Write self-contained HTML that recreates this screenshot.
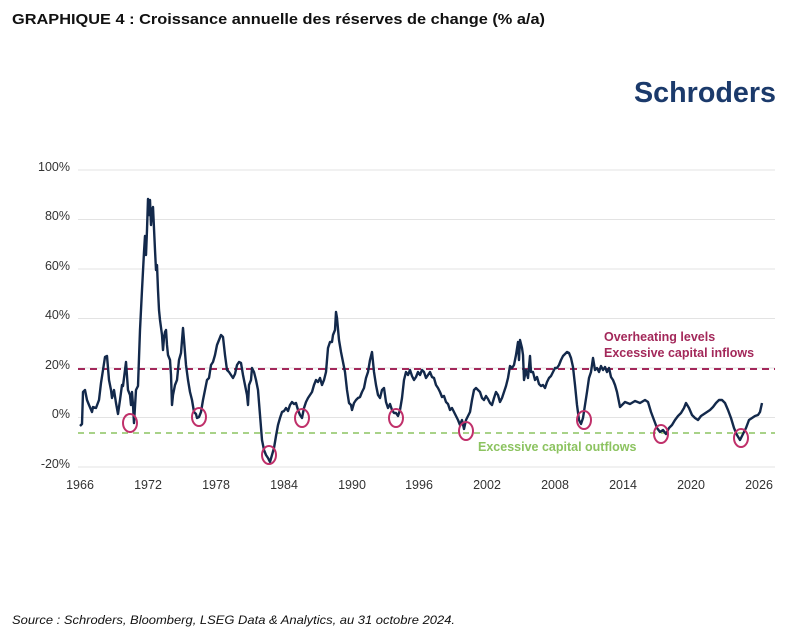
<!DOCTYPE html>
<html><head><meta charset="utf-8"><style>
html,body{margin:0;padding:0;background:#fff;}
svg{display:block;font-family:"Liberation Sans",sans-serif;}
</style></head><body>
<svg width="801" height="637" viewBox="0 0 801 637" xmlns="http://www.w3.org/2000/svg">
<text x="12" y="24" font-size="15" font-weight="bold" fill="#111" textLength="533" lengthAdjust="spacingAndGlyphs">GRAPHIQUE 4 : Croissance annuelle des réserves de change (% a/a)</text>
<text x="634" y="102" font-size="29" font-weight="bold" fill="#1b3a6b" textLength="142" lengthAdjust="spacingAndGlyphs">Schroders</text>
<g stroke="#e3e3e3" stroke-width="1">
<line x1="78" y1="170" x2="775" y2="170"/>
<line x1="78" y1="219.5" x2="775" y2="219.5"/>
<line x1="78" y1="269" x2="775" y2="269"/>
<line x1="78" y1="318.5" x2="775" y2="318.5"/>
<line x1="78" y1="368" x2="775" y2="368"/>
<line x1="78" y1="417.5" x2="775" y2="417.5"/>
<line x1="78" y1="467" x2="775" y2="467"/>
</g>
<g font-size="12.5" fill="#333" text-anchor="end">
<text x="70" y="171">100%</text><text x="70" y="220">80%</text><text x="70" y="270">60%</text>
<text x="70" y="319">40%</text><text x="70" y="369">20%</text><text x="70" y="418">0%</text><text x="70" y="468">-20%</text>
</g>
<g font-size="12.5" fill="#333" text-anchor="middle">
<text x="80" y="489">1966</text><text x="148" y="489">1972</text><text x="216" y="489">1978</text>
<text x="284" y="489">1984</text><text x="352" y="489">1990</text><text x="419" y="489">1996</text>
<text x="487" y="489">2002</text><text x="555" y="489">2008</text><text x="623" y="489">2014</text>
<text x="691" y="489">2020</text><text x="759" y="489">2026</text>
</g>
<line x1="78" y1="369" x2="775" y2="369" stroke="#a3285a" stroke-width="2" stroke-dasharray="7,5"/>
<line x1="78" y1="433" x2="775" y2="433" stroke="#8cc360" stroke-width="1.5" stroke-dasharray="6,5"/>
<text x="604" y="341" font-size="12.5" font-weight="bold" fill="#a3285a">Overheating levels</text>
<text x="604" y="357" font-size="12.5" font-weight="bold" fill="#a3285a">Excessive capital inflows</text>
<text x="478" y="451" font-size="12.5" font-weight="bold" fill="#8cc360">Excessive capital outflows</text>
<polyline fill="none" stroke="#13294b" stroke-width="2.4" stroke-linejoin="round" points="80,426 82,424 83,392 85,390 87,400 89,405 92,412 93,407 96,408 99,400 101,383 103,370 105,357 107,356 109,380 111,390 112,398 114,390 116,403 118,414 120,400 122,385 123,386 125,370 126,362 128,390 130,395 131,405 132,392 133,405 134,423 136,390 138,386 140,330 142,290 144,252 145,236 146,255 147,230 148,199 149,215 150,200 151,225 152,210 153,207 155,250 156,270 157,265 158,290 159,310 160,320 162,335 163,350 164,338 165,332 166,330 167,345 168,355 170,360 171,375 172,405 173,395 175,385 177,380 179,360 181,353 183,328 184,340 186,365 188,380 190,392 192,400 194,412 196,414 197,418 199,417 201,412 203,400 205,390 207,380 209,378 211,365 213,362 215,355 217,345 219,340 221,335 223,337 225,355 227,370 229,372 231,375 233,378 235,374 237,365 239,362 241,363 243,375 245,385 247,395 248,405 249,385 251,380 252,368 254,372 256,380 258,390 260,415 262,440 264,450 266,455 268,458 270,462 272,455 274,448 276,436 278,425 280,418 282,412 284,411 286,408 288,411 290,405 292,402 294,404 296,403 298,410 300,415 302,418 304,408 306,402 308,398 310,395 312,392 314,385 316,380 318,382 320,378 322,385 324,380 326,372 328,348 330,342 332,342 333,335 335,330 336,312 337,318 339,340 341,352 343,362 345,372 347,390 349,403 351,405 352,410 354,403 356,400 358,398 360,397 362,392 364,388 366,378 368,372 370,360 372,352 374,372 376,385 378,395 380,398 382,390 384,388 386,402 388,408 390,404 392,410 394,413 396,413 398,416 400,410 402,398 404,380 406,372 408,375 410,370 412,376 414,380 416,377 418,372 420,375 422,370 424,372 426,378 428,375 430,372 432,377 434,378 436,385 438,388 440,392 442,397 444,396 446,402 448,404 450,410 452,408 454,412 456,416 458,420 460,425 462,420 464,429 466,420 468,416 470,412 472,400 474,390 476,388 478,390 480,392 482,398 484,400 486,396 488,399 490,403 492,405 494,398 496,392 498,395 500,402 502,398 504,392 506,386 508,378 510,366 512,368 514,365 516,355 518,342 519,360 520,340 522,348 523,355 524,380 526,370 528,378 530,356 531,372 533,372 535,380 537,377 539,384 541,386 543,385 545,388 547,382 549,378 551,376 553,372 555,368 557,368 559,365 561,360 563,356 565,354 567,352 569,353 571,358 573,367 575,385 577,405 579,420 581,424 583,418 585,405 587,392 589,378 591,372 593,358 595,370 597,368 599,372 601,366 603,370 605,367 607,372 609,368 611,377 613,380 615,385 617,392 620,407 625,402 630,404 635,401 640,403 645,400 648,402 651,412 654,420 657,428 660,432 663,430 666,434 669,428 672,425 675,420 678,416 681,413 684,408 686,403 689,408 692,415 695,418 698,420 701,416 704,414 707,412 710,410 713,407 716,403 719,400 722,400 725,403 728,410 731,418 734,428 737,435 740,440 743,434 746,428 749,420 752,418 755,416 758,415 760,412 762,403"/>
<g fill="none" stroke="#c0306a" stroke-width="2">
<ellipse cx="130" cy="423" rx="7" ry="9"/>
<ellipse cx="199" cy="417" rx="7" ry="9"/>
<ellipse cx="269" cy="455" rx="7" ry="9"/>
<ellipse cx="302" cy="418" rx="7" ry="9"/>
<ellipse cx="396" cy="418" rx="7" ry="9"/>
<ellipse cx="466" cy="431" rx="7" ry="9"/>
<ellipse cx="584" cy="420" rx="7" ry="9"/>
<ellipse cx="661" cy="434" rx="7" ry="9"/>
<ellipse cx="741" cy="438" rx="7" ry="9"/>
</g>
<text x="12" y="624" font-size="12" font-style="italic" fill="#111" textLength="443" lengthAdjust="spacingAndGlyphs">Source : Schroders, Bloomberg, LSEG Data &amp; Analytics, au 31 octobre 2024.</text>
</svg>
</body></html>
